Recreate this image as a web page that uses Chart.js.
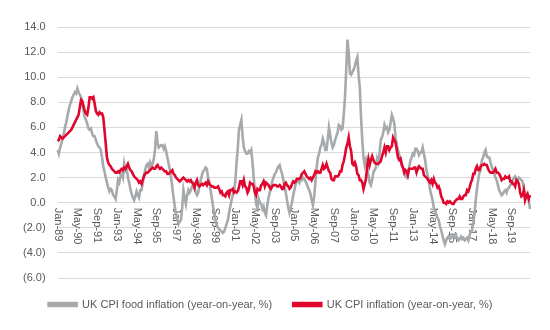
<!DOCTYPE html>
<html>
<head>
<meta charset="utf-8">
<script src="https://cdn.jsdelivr.net/npm/chart.js@4"></script>
<style>
  html, body { margin: 0; padding: 0; background: #fff; }
  #wrap { width: 550px; height: 330px; }
</style>
</head>
<body>
<div id="wrap"><canvas id="cpiChart" width="550" height="330"></canvas></div>
<script>
// monthly, Jan-89 .. Dec-20
const years = [];
for (let y = 1989; y <= 2020; y++) years.push(y);
const monthNames = ["Jan", "Feb", "Mar", "Apr", "May", "Jun", "Jul", "Aug", "Sep", "Oct", "Nov", "Dec"];
const months = [];
years.forEach(y => monthNames.forEach(m => months.push(m + "-" + String(y).slice(2))));

const tickLabels = ["Jan-89", "May-90", "Sep-91", "Jan-93", "May-94", "Sep-95", "Jan-97", "May-98",
  "Sep-99", "Jan-01", "May-02", "Sep-03", "Jan-05", "May-06", "Sep-07", "Jan-09", "May-10",
  "Sep-11", "Jan-13", "May-14", "Sep-15", "Jan-17", "May-18", "Sep-19"];

const foodInflation = [
  4.2, 3.9, 4.4, 4.7, 5.1, 5.5, 6.0, 6.4, 6.9, 7.4, 7.8, 8.1,
  8.4, 8.6, 8.8, 8.7, 9.1, 8.8, 8.6, 8.4, 7.9, 7.3, 6.8, 6.6,
  6.3, 5.9, 5.8, 5.9, 5.5, 5.3, 5.3, 5.0, 4.7, 4.5, 4.4, 4.2,
  3.6, 2.9, 2.5, 2.0, 1.6, 1.2, 0.9, 1.1, 1.0, 0.6, 0.5, 0.3,
  1.0, 1.8, 1.6, 2.1, 2.3, 2.0, 3.1, 2.6, 2.8, 2.0, 1.6, 1.1,
  0.7, 0.4, 0.2, 0.5, 0.9, 0.6, 0.4, 1.0, 1.0, 1.5, 2.2, 2.6,
  3.0, 3.1, 2.8, 3.2, 2.9, 3.1, 3.5, 4.2, 5.7, 4.8, 4.4, 4.5,
  4.6, 4.6, 4.3, 4.5, 4.1, 3.6, 3.1, 2.6, 2.0, 1.2, 0.4, -0.3,
  -0.9, -1.3, -1.7, -1.5, -1.4, -0.4, 1.0, 0.4, -0.1, 0.6, 1.0, 0.8,
  1.0, 1.3, 1.5, 1.2, 0.8, 0.6, 0.8, 1.4, 1.8, 2.2, 2.5, 2.6,
  2.8, 2.7, 2.0, 1.6, 1.0, 0.4, -0.3, -0.9, -1.4, -1.8, -2.0, -2.1,
  -2.2, -2.3, -2.4, -2.3, -2.0, -1.7, -1.4, -0.8, -0.3, 0.2, 0.6, 1.0,
  1.6, 3.1, 4.2, 5.8, 6.2, 6.6, 5.2, 4.4, 4.1, 3.9, 3.9, 4.1,
  4.0, 4.2, 3.2, 2.0, 0.8, -0.1, -0.4, 0.3, 0.0, -0.1, -0.5, -0.3,
  -0.8, -1.0, -0.2, 0.4, 0.8, 1.2, 1.7, 2.0, 2.3, 2.4, 2.7, 2.9,
  3.0, 2.6, 2.3, 1.8, 1.3, 0.8, 0.2, -0.4, -0.8, -0.4, 0.0, 0.6,
  1.0, 1.5, 1.7, 1.8, 1.6, 1.9, 1.8, 2.0, 1.9, 1.7, 1.5, 1.2,
  1.0, 0.7, 0.2, -0.2, 0.5, 1.6, 2.8, 3.6, 3.9, 4.4, 4.6, 5.1,
  4.8, 4.2, 4.2, 5.0, 6.0, 5.4, 4.8, 4.4, 4.6, 5.0, 5.3, 5.6,
  6.2, 6.1, 5.8, 5.9, 7.0, 8.4, 10.6, 13.0, 12.0, 10.3, 10.2, 10.4,
  10.6, 10.9, 11.3, 11.6, 10.2, 9.2, 6.8, 5.0, 3.6, 3.0, 3.4, 2.8,
  2.2, 1.6, 1.4, 1.8, 2.4, 2.6, 2.8, 3.5, 3.2, 3.9, 5.0, 5.2,
  5.6, 6.2, 5.9, 6.0, 5.6, 5.8, 6.4, 7.0, 6.7, 6.3, 5.2, 4.6,
  4.2, 3.8, 3.5, 3.2, 2.8, 2.5, 2.1, 2.0, 2.4, 2.8, 3.3, 3.6,
  3.9, 3.8, 4.3, 4.3, 4.1, 3.8, 4.0, 4.0, 4.4, 3.9, 3.4, 2.6,
  2.2, 1.8, 1.0, 0.6, 0.2, -0.4, -0.6, -1.0, -1.2, -1.4, -1.9, -2.2,
  -2.6, -3.0, -3.3, -3.0, -2.8, -2.7, -2.9, -2.8, -2.6, -2.7, -2.8, -2.6,
  -2.8, -3.0, -2.9, -2.7, -2.9, -2.8, -3.0, -2.9, -2.8, -3.0, -2.6, -2.3,
  -2.2, -1.6, -0.9, 0.2, 1.1, 1.8, 2.4, 2.6, 3.4, 3.6, 4.0, 4.2,
  3.7, 3.6, 3.6, 3.2, 2.9, 2.6, 2.3, 2.0, 1.8, 1.4, 1.0, 0.8,
  0.6, 0.7, 0.9, 1.0, 0.8, 1.1, 1.2, 1.4, 1.6, 1.8, 2.0, 2.1,
  1.9, 1.8, 2.0, 1.9, 1.8, 1.7, 1.1, 0.8, 0.7, 0.5, 0.2, -0.5
];

const cpiInflation = [
  4.9, 5.0, 5.3, 5.2, 5.1, 5.2, 5.3, 5.4, 5.5, 5.6, 5.7, 5.8,
  6.0, 6.2, 6.4, 6.6, 6.8, 7.0, 7.6, 8.2, 8.1, 7.7, 7.3, 7.1,
  7.0, 7.6, 8.4, 8.4, 8.3, 8.4, 7.9, 7.3, 7.1, 7.0, 7.2, 7.1,
  7.1, 6.8, 5.8, 4.7, 3.6, 3.2, 3.0, 2.9, 2.7, 2.6, 2.5, 2.4,
  2.4, 2.5, 2.4, 2.6, 2.7, 2.6, 2.8, 2.7, 2.9, 3.1, 2.8, 2.6,
  2.5, 2.3, 2.1, 2.0, 1.9, 1.8, 1.6, 1.7, 1.5, 1.8, 2.1, 2.3,
  2.4, 2.4, 2.5, 2.6, 2.7, 2.8, 2.7, 2.7, 2.9, 3.0, 2.8, 2.7,
  2.8, 2.7, 2.6, 2.5, 2.5, 2.3, 2.3, 2.4, 2.5, 2.6, 2.3, 2.2,
  2.0, 1.9, 1.8, 1.7, 1.8, 1.9, 2.0, 1.9, 1.8, 1.7, 1.8, 1.7,
  1.8, 1.6, 1.5, 1.2, 1.6, 1.8, 1.4, 1.3, 1.4, 1.5, 1.4, 1.5,
  1.6, 1.4, 1.7, 1.5, 1.4, 1.3, 1.3, 1.2, 1.2, 1.2, 1.3, 1.1,
  0.8, 0.9, 0.6, 0.6, 0.5, 0.8, 0.9, 0.6, 1.0, 1.0, 1.1, 0.8,
  0.9, 0.8, 0.9, 1.2, 1.7, 1.7, 1.4, 1.8, 1.3, 1.2, 0.8, 1.0,
  1.6, 1.5, 1.5, 1.3, 0.8, 0.6, 1.1, 1.0, 1.0, 1.4, 1.5, 1.7,
  1.3, 1.6, 1.5, 1.4, 1.2, 1.1, 1.3, 1.4, 1.4, 1.4, 1.3, 1.3,
  1.4, 1.3, 1.1, 1.1, 1.5, 1.6, 1.4, 1.3, 1.1, 1.2, 1.5, 1.7,
  1.6, 1.7, 1.9, 1.9, 1.9, 2.0, 2.3, 2.4, 2.5, 2.3, 2.1, 2.0,
  1.9, 2.0, 1.8, 2.0, 2.2, 2.5, 2.4, 2.5, 2.4, 2.4, 2.7, 3.0,
  2.7, 2.8, 3.1, 2.8, 2.5, 2.4, 1.9, 1.8, 1.8, 2.1, 2.1, 2.1,
  2.2, 2.5, 2.5, 3.0, 3.3, 3.8, 4.4, 4.7, 5.2, 4.5, 4.1, 3.1,
  3.0, 3.2, 2.9, 2.3, 2.2, 1.8, 1.8, 1.6, 1.1, 1.5, 1.9, 2.9,
  3.5, 3.0, 3.4, 3.7, 3.4, 3.2, 3.1, 3.1, 3.1, 3.2, 3.3, 3.7,
  4.0, 4.4, 4.0, 4.5, 4.5, 4.2, 4.4, 4.5, 5.2, 5.0, 4.8, 4.2,
  3.6, 3.4, 3.5, 3.0, 2.8, 2.4, 2.6, 2.5, 2.2, 2.7, 2.7, 2.7,
  2.7, 2.8, 2.8, 2.4, 2.7, 2.9, 2.8, 2.7, 2.7, 2.2, 2.1, 2.0,
  1.9, 1.7, 1.6, 1.8, 1.5, 1.9, 1.6, 1.5, 1.2, 1.3, 1.0, 0.5,
  0.3, 0.0, 0.0, -0.1, 0.1, 0.0, 0.1, 0.0, -0.1, -0.1, 0.1, 0.2,
  0.3, 0.3, 0.5, 0.3, 0.3, 0.5, 0.6, 0.6, 1.0, 0.9, 1.2, 1.6,
  1.8, 2.3, 2.3, 2.7, 2.9, 2.6, 2.6, 2.9, 3.0, 3.0, 3.1, 3.0,
  3.0, 2.7, 2.5, 2.4, 2.4, 2.4, 2.5, 2.7, 2.4, 2.4, 2.3, 2.1,
  1.8, 1.9, 1.9, 2.1, 2.0, 2.0, 2.1, 1.7, 1.7, 1.5, 1.5, 1.3,
  1.8, 1.7, 1.5, 0.8, 0.5, 0.6, 1.0, 0.2, 0.5, 0.7, 0.3, 0.6
];

const grey = "#A6AAAC";
const red = "#E0062D";
const textColor = "#595959";
const fontFamily = "'Liberation Sans', Arial, sans-serif";

// x labels sit on the zero line, reading top to bottom like the original
const zeroLineLabels = {
  id: "zeroLineLabels",
  beforeDatasetsDraw(chart) {
    const x = chart.scales.x, y = chart.scales.y;
    const ctx = chart.ctx;
    const y0 = y.getPixelForValue(0);
    ctx.save();
    ctx.font = "11px " + fontFamily;
    ctx.fillStyle = textColor;
    ctx.textAlign = "left";
    ctx.textBaseline = "middle";
    tickLabels.forEach(lbl => {
      const px = x.getPixelForValue(months.indexOf(lbl));
      ctx.save();
      ctx.translate(px, y0 + 5);
      ctx.rotate(Math.PI / 2);
      ctx.fillText(lbl, 0, 0);
      ctx.restore();
    });
    ctx.restore();
  }
};

new Chart(document.getElementById("cpiChart"), {
  type: "line",
  data: {
    labels: months,
    datasets: [
      {
        label: "UK CPI food inflation (year-on-year, %)",
        data: foodInflation,
        borderColor: grey,
        backgroundColor: grey,
        borderWidth: 2.6,
        pointRadius: 0,
        tension: 0,
        order: 2
      },
      {
        label: "UK CPI inflation (year-on-year, %)",
        data: cpiInflation,
        borderColor: red,
        backgroundColor: red,
        borderWidth: 2.6,
        pointRadius: 0,
        tension: 0,
        order: 1
      }
    ]
  },
  options: {
    responsive: false,
    animation: false,
    layout: { padding: { left: 11, right: 20, top: 27, bottom: 10 } },
    scales: {
      x: {
        display: false,
        offset: false
      },
      y: {
        min: -6,
        max: 14,
        ticks: {
          stepSize: 2,
          color: textColor,
          padding: 12,
          font: { size: 11, family: fontFamily },
          callback: v => v < 0 ? "(" + Math.abs(v).toFixed(1) + ")" : v.toFixed(1)
        },
        grid: { color: "#D9D9D9", drawTicks: false },
        border: { display: false }
      }
    },
    plugins: {
      legend: {
        position: "bottom",
        labels: {
          color: textColor,
          boxWidth: 28,
          boxHeight: 3,
          padding: 21,
          font: { size: 11, family: fontFamily },
          sort: (a, b) => a.datasetIndex - b.datasetIndex
        }
      },
      tooltip: { enabled: false }
    }
  },
  plugins: [zeroLineLabels]
});
</script>
</body>
</html>
